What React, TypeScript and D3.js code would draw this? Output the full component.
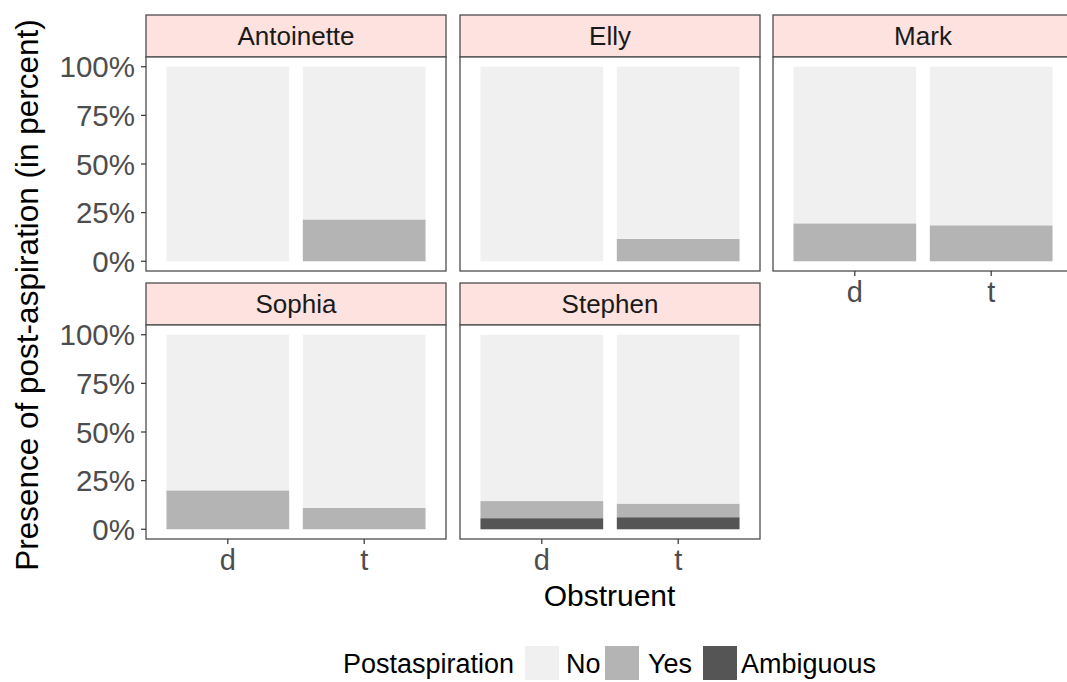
import React from "react";
import * as d3 from "d3";

const speakers = ["Antoinette", "Elly", "Mark", "Sophia", "Stephen"];
const obstruents = ["d", "t"];
// percent of tokens per speaker x obstruent
const yesPct = [
  [0, 21.5],
  [0, 11.5],
  [19.5, 18.5],
  [20, 11],
  [8.8, 7],
];
const ambiguousPct = [
  [0, 0],
  [0, 0],
  [0, 0],
  [0, 0],
  [5.7, 6.2],
];
const categories = ["No", "Yes", "Ambiguous"];
const yTicks = [0, 25, 50, 75, 100];

const W = 1067;
const H = 682;
const panelW = 300;
const panelH = 214;
const colX = [146, 460, 773];
const stripH = 42;
const rowPanelTop = [57, 325];
const font = "'Liberation Sans', Arial, sans-serif";
const fills: Record<string, string> = {
  No: "#f0f0f0",
  Yes: "#b4b4b4",
  Ambiguous: "#555555",
};

export default function App() {
  const x = d3.scalePoint<string>().domain(obstruents).range([0, panelW]).padding(0.6);
  const barW = x.step() * 0.9;
  const y = d3.scaleLinear().domain([-5, 105]).range([panelH, 0]);

  const stackKeys = ["Ambiguous", "Yes", "No"];

  const panels = speakers.map((sp, i) => {
    const col = i % 3;
    const row = Math.floor(i / 3);
    const rows = obstruents.map((o, j) => {
      const yes = yesPct[i][j];
      const amb = ambiguousPct[i][j];
      return { obstruent: o, Ambiguous: amb, Yes: yes, No: 100 - yes - amb };
    });
    const series = d3.stack<any>().keys(stackKeys)(rows);
    const px = colX[col];
    const py = rowPanelTop[row];
    const hasXAxis = i >= 2;
    const hasYAxis = col === 0;
    return (
      <g key={sp}>
        <rect x={px} y={py - stripH} width={panelW} height={stripH} fill="#fde2df" stroke="#4d4d4d" strokeWidth={1.3} />
        <text x={px + panelW / 2} y={py - stripH / 2} dy="0.36em" textAnchor="middle" fontSize={26} fontFamily={font} fill="#1a1a1a">
          {sp}
        </text>
        <g transform={`translate(${px},${py})`}>
          <rect x={0} y={0} width={panelW} height={panelH} fill="#ffffff" />
          {series.map((s) => (
            <g key={s.key}>
              {s.map((d, j) => (
                <rect
                  key={j}
                  x={(x(obstruents[j]) as number) - barW / 2}
                  y={y(d[1])}
                  width={barW}
                  height={Math.max(0, y(d[0]) - y(d[1]))}
                  fill={fills[s.key]}
                />
              ))}
            </g>
          ))}
          <rect x={0} y={0} width={panelW} height={panelH} fill="none" stroke="#4d4d4d" strokeWidth={1.3} />
          {hasYAxis &&
            yTicks.map((t) => (
              <g key={t} transform={`translate(0,${y(t)})`}>
                <line x1={-5} x2={0} stroke="#333" strokeWidth={1.2} />
                <text x={-11} dy="0.36em" textAnchor="end" fontSize={29.5} fontFamily={font} fill="#4d4d4d">
                  {`${t}%`}
                </text>
              </g>
            ))}
          {hasXAxis &&
            obstruents.map((o) => (
              <g key={o} transform={`translate(${x(o)},${panelH})`}>
                <line y1={0} y2={5} stroke="#333" strokeWidth={1.2} />
                <text y={8} dy="0.8em" textAnchor="middle" fontSize={29} fontFamily={font} fill="#4d4d4d">
                  {o}
                </text>
              </g>
            ))}
        </g>
      </g>
    );
  });

  const legendKeyX = [525, 605, 703];
  const legendTextX = [566, 648, 741];

  return (
    <svg width={W} height={H} style={{ position: "absolute", left: 0, top: 0, background: "#fff" }}>
      <rect width={W} height={H} fill="#fff" />
      {panels}
      <text
        transform={`translate(38,${(rowPanelTop[0] - stripH + rowPanelTop[1] + panelH) / 2 + 18}) rotate(-90)`}
        textAnchor="middle"
        fontSize={31.5}
        fontFamily={font}
        fill="#000"
      >
        Presence of post-aspiration (in percent)
      </text>
      <text x={(colX[0] + colX[2] + panelW) / 2} y={606} textAnchor="middle" fontSize={30} fontFamily={font} fill="#000">
        Obstruent
      </text>
      <g>
        <text x={343} y={663} dy="0.36em" fontSize={27} fontFamily={font} fill="#000">
          Postaspiration
        </text>
        {categories.map((c, k) => (
          <g key={c}>
            <rect x={legendKeyX[k]} y={646} width={34} height={34} fill={fills[c]} />
            <text x={legendTextX[k]} y={663} dy="0.36em" fontSize={27} fontFamily={font} fill="#000">
              {c}
            </text>
          </g>
        ))}
      </g>
    </svg>
  );
}
